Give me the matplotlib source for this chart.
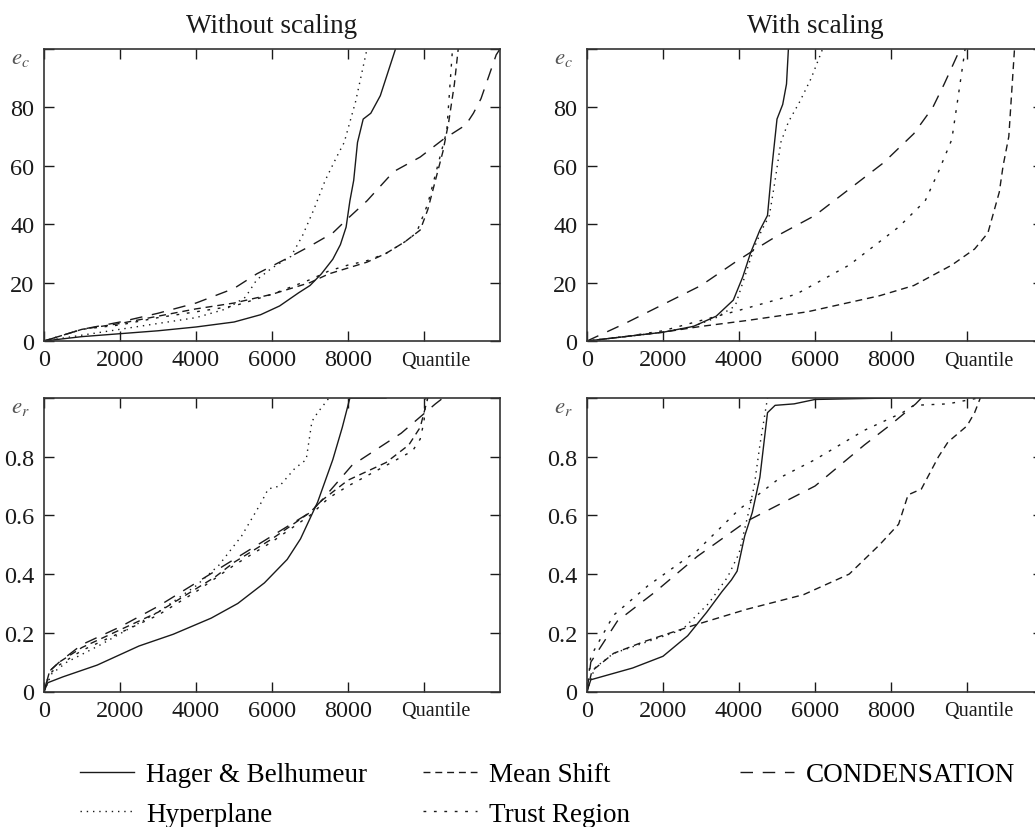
import matplotlib
matplotlib.use("Agg")
import matplotlib.pyplot as plt
from matplotlib.lines import Line2D

# -------------------- data --------------------
# x = quantile index, y = error (e_c in top row, e_r in bottom row)

# top-left: e_c, without scaling
tl_hager_x = [0, 1000, 2000, 3000, 4000, 5000, 5700, 6200, 6700, 7000, 7300, 7600, 7800, 7950, 8050, 8150, 8250, 8400, 8600, 8850, 9050, 9250]
tl_hager_y = [0, 1.5, 2.5, 3.5, 4.8, 6.5, 9, 12, 16.5, 19, 23, 28, 33, 39, 48, 55, 68, 76, 78, 84, 92, 100]
tl_hyper_x = [0, 1000, 2000, 3000, 4000, 4800, 5300, 5600, 6000, 6500, 6800, 7100, 7400, 7700, 7900, 8200, 8500]
tl_hyper_y = [0, 2, 4, 6, 8, 11, 15, 21, 25, 29, 36, 45, 55, 63, 68, 82, 100]
tl_mshift_x = [0, 1000, 2000, 3000, 4000, 5000, 6000, 7000, 7500, 8000, 8500, 9000, 9500, 9900, 10100, 10300, 10500, 10650, 10800, 10900]
tl_mshift_y = [0, 4, 6, 8.5, 11, 13, 16, 20, 23, 25, 27, 30, 34, 38, 45, 55, 65, 75, 88, 100]
tl_trust_x = [0, 1000, 2000, 3000, 4000, 5000, 6000, 7000, 7500, 8000, 8500, 9000, 9500, 9800, 10100, 10400, 10600, 10750]
tl_trust_y = [0, 4, 5.5, 8, 10, 12, 16, 21, 24, 26, 27.5, 30, 34, 37, 47, 62, 72, 100]
tl_cond_x = [0, 1000, 2000, 3000, 4000, 5000, 5600, 6500, 7000, 7600, 8000, 8500, 9200, 9900, 10500, 11100, 11300, 11500, 11900, 12000]
tl_cond_y = [0, 4, 6.5, 9.5, 13, 18, 23, 29, 32.5, 37, 42, 48, 58, 63, 69, 74, 78, 83, 98, 100]

# top-right: e_c, with scaling
tr_hager_x = [0, 1000, 2000, 2800, 3400, 3850, 4100, 4300, 4550, 4750, 4870, 5000, 5150, 5250, 5300]
tr_hager_y = [0, 1.5, 3, 5, 8.5, 14, 22, 30, 38, 43, 60, 76, 81, 88, 100]
tr_hyper_x = [0, 1000, 2000, 2800, 3400, 3900, 4150, 4400, 4600, 4800, 4950, 5100, 5300, 5600, 5900, 6200]
tr_hyper_y = [0, 1.5, 3, 5, 8, 12, 22, 32, 38, 43, 55, 68, 75, 82, 90, 100]
tr_mshift_x = [0, 1000, 2000, 3000, 4200, 5800, 7700, 8600, 9600, 10200, 10550, 10850, 10950, 11100, 11150, 11250]
tr_mshift_y = [0, 1.5, 3, 5, 7, 10, 15.5, 19, 26, 31.5, 37, 51, 60, 70, 80, 100]
tr_trust_x = [0, 1000, 2000, 2850, 4000, 5500, 6900, 8200, 8900, 9250, 9600, 9760, 9950]
tr_trust_y = [0, 1.5, 3.5, 6.5, 10.5, 16, 26, 39, 48, 58, 69, 83, 100]
tr_cond_x = [0, 500, 1000, 2000, 3000, 3900, 4500, 5000, 6000, 7000, 7800, 8600, 9100, 9400, 9750]
tr_cond_y = [0, 3, 6, 12.5, 19, 27, 32, 36, 43, 53, 61, 71, 80, 88, 98]

# bottom-left: e_r, without scaling
bl_hager_x = [0, 100, 500, 1400, 2500, 3400, 4400, 5100, 5800, 6400, 6750, 7200, 7600, 7850, 8050, 9000]
bl_hager_y = [0, 0.03, 0.05, 0.09, 0.155, 0.195, 0.25, 0.30, 0.37, 0.45, 0.52, 0.645, 0.79, 0.90, 1.0, 1.0]
bl_hyper_x = [0, 200, 600, 1500, 3000, 4000, 4600, 5200, 5700, 5900, 6200, 6600, 6900, 7050, 7200, 7500]
bl_hyper_y = [0, 0.06, 0.10, 0.16, 0.27, 0.36, 0.43, 0.53, 0.64, 0.69, 0.70, 0.76, 0.79, 0.92, 0.95, 1.0]
bl_mshift_x = [0, 150, 400, 1000, 1500, 2000, 3000, 4000, 4500, 5000, 6000, 7000, 7300, 7600, 8000, 9000, 9600, 9900, 10000, 10100]
bl_mshift_y = [0, 0.07, 0.10, 0.15, 0.18, 0.21, 0.27, 0.35, 0.39, 0.44, 0.52, 0.61, 0.65, 0.68, 0.72, 0.78, 0.84, 0.90, 0.95, 1.0]
bl_trust_x = [0, 150, 400, 1000, 2000, 3000, 4000, 5000, 6000, 7000, 7500, 8000, 9000, 9700, 9900, 10000, 10050]
bl_trust_y = [0, 0.06, 0.09, 0.14, 0.20, 0.26, 0.34, 0.43, 0.51, 0.60, 0.66, 0.70, 0.77, 0.82, 0.86, 0.92, 1.0]
bl_cond_x = [0, 150, 400, 1000, 2000, 3000, 4000, 5000, 6000, 7000, 7300, 8100, 9400, 10300, 10500]
bl_cond_y = [0, 0.07, 0.10, 0.16, 0.22, 0.29, 0.37, 0.45, 0.53, 0.61, 0.65, 0.77, 0.88, 0.98, 1.0]

# bottom-right: e_r, with scaling
br_hager_x = [0, 100, 1200, 2000, 2650, 3150, 3550, 3800, 3950, 4150, 4350, 4550, 4650, 4750, 4950, 5450, 6000, 8000]
br_hager_y = [0, 0.04, 0.08, 0.12, 0.19, 0.27, 0.34, 0.38, 0.41, 0.53, 0.61, 0.73, 0.84, 0.95, 0.975, 0.98, 0.995, 1.0]
br_hyper_x = [0, 200, 700, 1600, 2500, 3200, 3700, 4000, 4250, 4400, 4550, 4750]
br_hyper_y = [0, 0.08, 0.13, 0.17, 0.21, 0.30, 0.39, 0.47, 0.61, 0.70, 0.84, 1.0]
br_mshift_x = [0, 130, 700, 1500, 2200, 2800, 4200, 5700, 6900, 7700, 8200, 8450, 8800, 9250, 9500, 10000, 10200, 10350]
br_mshift_y = [0, 0.07, 0.13, 0.17, 0.20, 0.225, 0.28, 0.33, 0.40, 0.50, 0.57, 0.67, 0.69, 0.80, 0.85, 0.905, 0.95, 1.0]
br_trust_x = [0, 100, 700, 1600, 2900, 4000, 5100, 6000, 7300, 8300, 8600, 9500, 10300]
br_trust_y = [0, 0.12, 0.26, 0.36, 0.48, 0.62, 0.73, 0.79, 0.89, 0.95, 0.975, 0.98, 1.0]
br_cond_x = [0, 100, 800, 1800, 2900, 4200, 6000, 7300, 8000, 8650, 8800]
br_cond_y = [0, 0.10, 0.24, 0.34, 0.46, 0.58, 0.70, 0.84, 0.91, 0.98, 1.0]

method_names = ["Hager & Belhumeur", "Hyperplane", "Mean Shift", "Trust Region", "CONDENSATION"]
column_titles = ["Without scaling", "With scaling"]
x_ticks = [0, 2000, 4000, 6000, 8000, 10000]
x_ticklabels = ["0", "2000", "4000", "6000", "8000", ""]
ec_ticks = [0, 20, 40, 60, 80]
er_ticks = [0, 0.2, 0.4, 0.6, 0.8]
er_ticklabels = ["0", "0.2", "0.4", "0.6", "0.8"]

# -------------------- style --------------------
plt.rcParams["font.family"] = ["Liberation Serif", "DejaVu Serif"]
plt.rcParams["mathtext.fontset"] = "stix"

ink = "#1a1a1a"
line_styles = {
    "Hager & Belhumeur": "-",
    "Hyperplane": (0, (1, 3.5)),
    "Mean Shift": (0, (5, 3.5)),
    "Trust Region": (0, (2, 5.5)),
    "CONDENSATION": (0, (9, 7)),
}
tick_fs = 17.5
legend_fs = 19.5

W, H = 1035, 828
fig = plt.figure(figsize=(W / 100, H / 100), dpi=100)

def frac_box(left, top, right, bottom):
    return [left / W, 1 - bottom / H, (right - left) / W, (bottom - top) / H]

ax_tl = fig.add_axes(frac_box(44, 50, 500, 342))
ax_tr = fig.add_axes(frac_box(587, 50, 1043, 342))
ax_bl = fig.add_axes(frac_box(44, 399, 500, 692.5))
ax_br = fig.add_axes(frac_box(587, 399, 1043, 692.5))

panels = [
    (ax_tl, [(tl_hager_x, tl_hager_y), (tl_hyper_x, tl_hyper_y), (tl_mshift_x, tl_mshift_y),
             (tl_trust_x, tl_trust_y), (tl_cond_x, tl_cond_y)], "ec"),
    (ax_tr, [(tr_hager_x, tr_hager_y), (tr_hyper_x, tr_hyper_y), (tr_mshift_x, tr_mshift_y),
             (tr_trust_x, tr_trust_y), (tr_cond_x, tr_cond_y)], "ec"),
    (ax_bl, [(bl_hager_x, bl_hager_y), (bl_hyper_x, bl_hyper_y), (bl_mshift_x, bl_mshift_y),
             (bl_trust_x, bl_trust_y), (bl_cond_x, bl_cond_y)], "er"),
    (ax_br, [(br_hager_x, br_hager_y), (br_hyper_x, br_hyper_y), (br_mshift_x, br_mshift_y),
             (br_trust_x, br_trust_y), (br_cond_x, br_cond_y)], "er"),
]

for ax, series, kind in panels:
    for name, (xs, ys) in zip(method_names, series):
        ax.plot(xs, ys, color=ink, lw=1.0, ls=line_styles[name])

    ax.set_xlim(0, 12000)
    ax.set_xticks(x_ticks)
    ax.set_xticklabels(x_ticklabels)
    if kind == "ec":
        ax.set_ylim(0, 100)
        ax.set_yticks(ec_ticks + [100])
        ax.set_yticklabels([str(t) for t in ec_ticks] + [""])
        corner = "$e_c$"
    else:
        ax.set_ylim(0, 1)
        ax.set_yticks(er_ticks + [1.0])
        ax.set_yticklabels(er_ticklabels + [""])
        corner = "$e_r$"

    ax.tick_params(direction="in", length=7.5, width=1.0, top=True, right=True,
                   labelsize=tick_fs, colors=ink)
    ax.tick_params(axis="y", pad=7)
    ax.tick_params(axis="x", pad=6)
    for sp in ax.spines.values():
        sp.set_linewidth(1.2)
        sp.set_color("#333333")

    # axis name in the top-left corner, and "Quantile" under the last x tick
    ax.annotate(corner, xy=(0, 1), xycoords="axes fraction", xytext=(-10, -6),
                textcoords="offset points", ha="right", va="center",
                fontsize=16.5, color="#555555")
    ax.annotate("Quantile", xy=(10300, 0), xycoords=("data", "axes fraction"),
                xytext=(0, -7), textcoords="offset points", ha="center", va="top",
                fontsize=14.5, color=ink)

ax_tl.set_title(column_titles[0], fontsize=19.5, pad=12, color=ink)
ax_tr.set_title(column_titles[1], fontsize=19.5, pad=12, color=ink)

# -------------------- legend: three column groups --------------------
handles = [Line2D([], [], color=ink, lw=1.0, ls=line_styles[n], label=n) for n in method_names]
legend_kw = dict(frameon=False, fontsize=legend_fs, handlelength=2.0, handletextpad=0.45,
                 labelspacing=0.55, borderpad=0, borderaxespad=0, loc="upper left")
fig.legend(handles=handles[0:2], bbox_to_anchor=(80 / W, 1 - 763 / H), **legend_kw)
fig.legend(handles=handles[2:4], bbox_to_anchor=(423 / W, 1 - 763 / H), **legend_kw)
fig.legend(handles=handles[4:5], bbox_to_anchor=(740 / W, 1 - 763 / H), **legend_kw)

fig.savefig("out.png", dpi=100)
